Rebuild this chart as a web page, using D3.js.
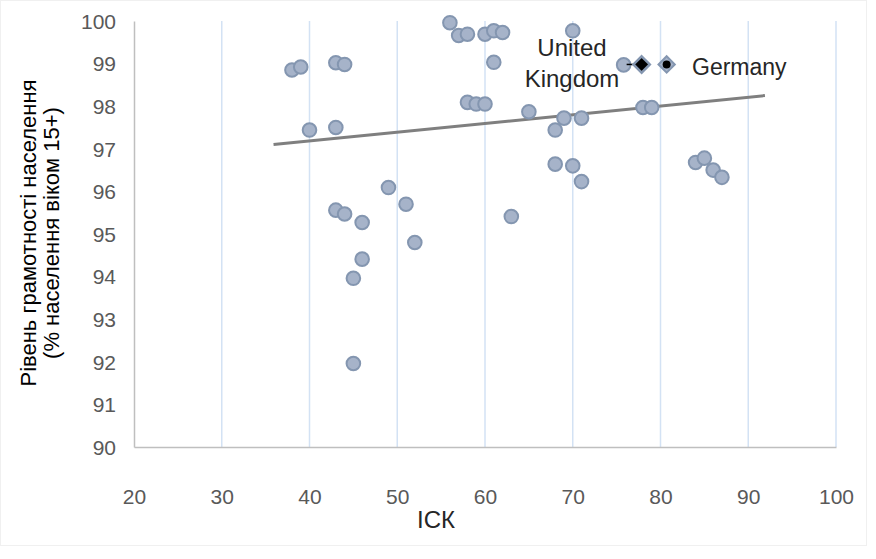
<!DOCTYPE html>
<html><head><meta charset="utf-8">
<script src="https://cdn.jsdelivr.net/npm/d3@7"></script>
<style>body{margin:0;background:#fff}svg{display:block}</style>
</head><body>
<svg id="c" width="876" height="559"></svg>
<script>
const xValues = [38,39,43,44,40,43,56,57,58,60,61,62,70,61,75.8,58,59,60,65,69,71,68,78,79,84,85,86,87,49,43,44,46,51,52,46,45,45,63,68,70,71];
const yValues = [98.85,98.92,99.02,98.98,97.44,97.5,99.96,99.66,99.69,99.69,99.77,99.73,99.77,99.03,98.97,98.09,98.05,98.05,97.87,97.72,97.72,97.44,97.97,97.97,96.68,96.78,96.5,96.33,96.09,95.56,95.47,95.27,95.7,94.8,94.41,93.96,91.96,95.41,96.64,96.6,96.23];
const highlightNames = ["United Kingdom","Germany"];
const highlightX = [77.85, 80.7];
const highlightY = [98.98, 98.98];
const trendX = [35.9, 91.9];
const trendY = [97.1, 98.25];
const xTicks = [20,30,40,50,60,70,80,90,100];
const yTicks = [90,91,92,93,94,95,96,97,98,99,100];
const xTitle = "ІСК";
const yTitle = ["Рівень грамотності населення","(% населення віком 15+)"];

const svg = d3.select("#c");
const font = "'Liberation Sans', Arial, sans-serif";
svg.append("rect").attr("x",0.5).attr("y",0.5).attr("width",866).attr("height",545).attr("fill","#fff").attr("stroke","#f0f0f0");

const x = d3.scaleLinear().domain([20,100]).range([134,836]);
const y = d3.scaleLinear().domain([90,100]).range([447,21]);

// gridlines
svg.append("g").selectAll("line").data(xTicks.slice(1)).join("line")
  .attr("x1",d=>x(d)).attr("x2",d=>x(d)).attr("y1",y(100)).attr("y2",y(90))
  .attr("stroke","#d3e2f4").attr("stroke-width",1.5);

// axes
const xa = svg.append("g").attr("transform",`translate(0,${y(90)})`)
  .call(d3.axisBottom(x).tickValues(xTicks).tickSize(0).tickPadding(0));
xa.select(".domain").attr("stroke","#bfbfbf").attr("stroke-width",1.5);
xa.selectAll("text").attr("font-family",font).attr("font-size",21).attr("fill","#595959").attr("dy","0.35em").attr("y",50);

const ya = svg.append("g").attr("transform",`translate(${x(20)},0)`)
  .call(d3.axisLeft(y).tickValues(yTicks).tickSize(0).tickPadding(0));
ya.select(".domain").attr("stroke","#bfbfbf").attr("stroke-width",1.5);
ya.selectAll("text").attr("font-family",font).attr("font-size",21).attr("fill","#595959").attr("x",-18).attr("dy","0.35em");

// trend line
svg.append("line").attr("x1",x(trendX[0])).attr("y1",y(trendY[0])).attr("x2",x(trendX[1])).attr("y2",y(trendY[1]))
  .attr("stroke","#7f7f7f").attr("stroke-width",3);

// points
svg.append("g").selectAll("circle").data(xValues.map((v,i)=>[v,yValues[i]])).join("circle")
  .attr("cx",d=>x(d[0])).attr("cy",d=>y(d[1])).attr("r",6.8)
  .attr("fill","#a6b3c9").attr("stroke","#8496b0").attr("stroke-width",2);

// highlighted
const diamond = d3.symbol().type(d3.symbolDiamond2).size(170);
const hx0 = x(highlightX[0]), hy0 = y(highlightY[0]);
svg.append("line").attr("x1",hx0-15).attr("x2",hx0).attr("y1",hy0).attr("y2",hy0).attr("stroke","#000").attr("stroke-width",1.5);
svg.append("path").attr("d",diamond).attr("transform",`translate(${hx0},${hy0})`)
  .attr("fill","#000").attr("stroke","#8496b0").attr("stroke-width",2.5);
const hx1 = x(highlightX[1]), hy1 = y(highlightY[1]);
svg.append("path").attr("d",diamond).attr("transform",`translate(${hx1},${hy1})`)
  .attr("fill","#a6b3c9").attr("stroke","#8496b0").attr("stroke-width",2);
svg.append("circle").attr("cx",hx1).attr("cy",hy1).attr("r",4).attr("fill","#000");

const ukWords = highlightNames[0].split(" ");
svg.append("text").attr("x",572).attr("y",56).attr("text-anchor","middle").attr("font-family",font).attr("font-size",24).attr("fill","#262626").text(ukWords[0]);
svg.append("text").attr("x",572).attr("y",87).attr("text-anchor","middle").attr("font-family",font).attr("font-size",24).attr("fill","#262626").text(ukWords[1]);
svg.append("text").attr("x",692).attr("y",75).attr("font-family",font).attr("font-size",23).attr("fill","#262626").text(highlightNames[1]);

// titles
svg.append("text").attr("x",436).attr("y",528).attr("text-anchor","middle").attr("font-family",font).attr("font-size",24).attr("fill","#262626").text(xTitle);
const yt = svg.append("text").attr("transform","translate(0,233) rotate(-90)").attr("text-anchor","middle")
  .attr("font-family",font).attr("font-size",22).attr("fill","#000");
yt.append("tspan").attr("x",0).attr("y",36).text(yTitle[0]);
yt.append("tspan").attr("x",0).attr("y",59).text(yTitle[1]);
</script>
</body></html>
